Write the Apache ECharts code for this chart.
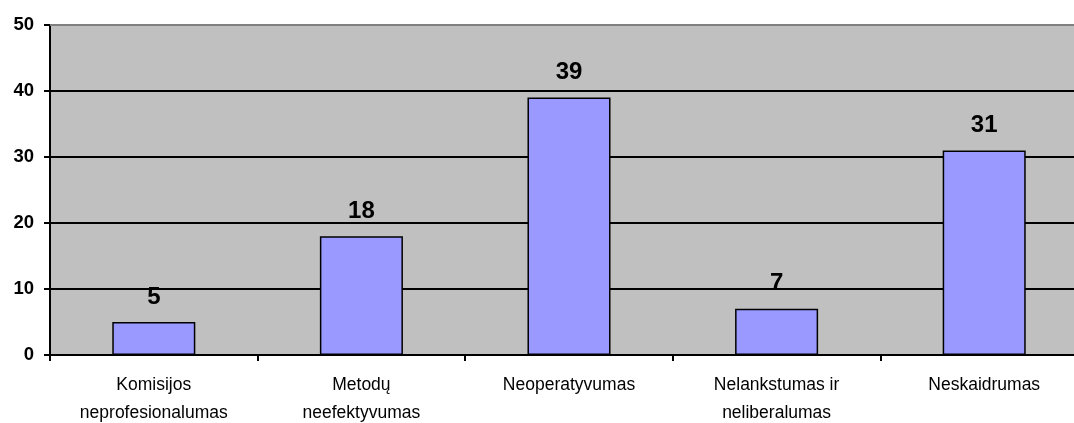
<!DOCTYPE html>
<html>
<head>
<meta charset="utf-8">
<script src="https://cdn.jsdelivr.net/npm/echarts@6/dist/echarts.min.js"></script>
<style>
  html, body { margin: 0; padding: 0; background: #fff; }
  #chart { width: 1074px; height: 423px; }
</style>
</head>
<body>
<div id="chart"></div>
<script>
// Categories and values
const categories = [
  'Komisijos\nneprofesionalumas',
  'Metodų\nneefektyvumas',
  'Neoperatyvumas',
  'Nelankstumas ir\nneliberalumas',
  'Neskaidrumas'
];
const values = [5, 18, 39, 7, 31];
const yTicks = [0, 10, 20, 30, 40, 50];

const chart = echarts.init(document.getElementById('chart'), null, { renderer: 'canvas' });

chart.setOption({
  animation: false,
  grid: {
    left: 50,
    top: 25,
    width: 1038,
    height: 330,
    outerBoundsMode: 'none',
    containLabel: false,
    backgroundColor: '#C0C0C0',
    show: true,
    borderWidth: 0
  },
  xAxis: {
    type: 'category',
    data: categories,
    boundaryGap: true,
    axisLine: { show: true, lineStyle: { color: '#000', width: 2 } },
    axisTick: { show: true, length: 6, lineStyle: { color: '#000', width: 2 } },
    axisLabel: {
      color: '#000',
      fontFamily: 'Liberation Sans, Arial, sans-serif',
      fontSize: 17.5,
      lineHeight: 28,
      margin: 16,
      interval: 0
    }
  },
  yAxis: {
    type: 'value',
    min: yTicks[0],
    max: yTicks[yTicks.length - 1],
    interval: 10,
    axisLine: { show: true, lineStyle: { color: '#000', width: 2 } },
    axisTick: { show: true, length: 6, lineStyle: { color: '#000', width: 2 } },
    splitLine: { show: true, lineStyle: { color: '#000', width: 2 } },
    axisLabel: {
      color: '#000',
      fontFamily: 'Liberation Sans, Arial, sans-serif',
      fontSize: 18.5,
      fontWeight: 'bold',
      margin: 16
    }
  },
  series: [{
    type: 'bar',
    data: values,
    barWidth: '40%',
    itemStyle: { color: '#9999FF', borderColor: '#000', borderWidth: 1.5 },
    label: {
      show: true,
      position: 'top',
      distance: 13,
      color: '#000',
      fontFamily: 'Liberation Sans, Arial, sans-serif',
      fontSize: 24,
      fontWeight: 'bold'
    }
  }],
  graphic: [{
    type: 'line',
    shape: { x1: 50, y1: 25, x2: 1074, y2: 25 },
    style: { stroke: '#808080', lineWidth: 2 },
    z: 100
  }]
});
</script>
</body>
</html>
